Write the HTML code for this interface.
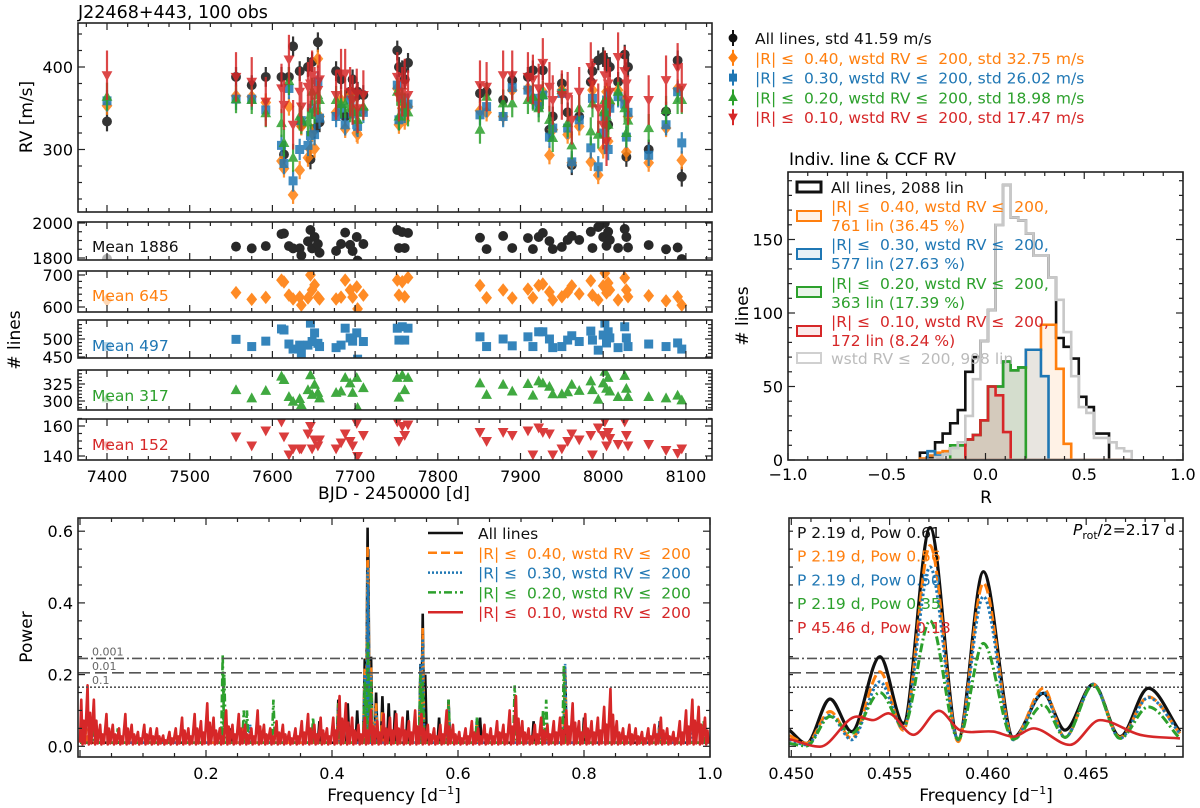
<!DOCTYPE html>
<html><head><meta charset="utf-8">
<style>
html,body{margin:0;padding:0;background:#fff;}
svg{display:block;font-family:"DejaVu Sans","Liberation Sans",sans-serif;}
</style></head>
<body>
<svg id="c" width="1200" height="808" viewBox="0 0 1200 808" xmlns="http://www.w3.org/2000/svg">
<defs>
<clipPath id="cpTop"><rect x="78" y="23" width="634" height="189"/></clipPath>
<clipPath id="cpBL"><rect x="78" y="518" width="632" height="239"/></clipPath>
<clipPath id="cpBR"><rect x="789" y="518" width="394" height="239"/></clipPath>
<clipPath id="cpH"><rect x="788" y="172" width="395" height="288"/></clipPath>
</defs>
<text x="78" y="18" font-size="17.5">J22468+443, 100 obs</text>
<text x="789" y="165" font-size="17">Indiv. line &amp; CCF RV</text>
<text transform="translate(32,117) rotate(-90)" text-anchor="middle" font-size="17">RV [m/s]</text>
<text transform="translate(20,340) rotate(-90)" text-anchor="middle" font-size="17"># lines</text>
<text x="394" y="499" text-anchor="middle" font-size="17">BJD - 2450000 [d]</text>
<text x="986" y="503" text-anchor="middle" font-size="17">R</text>
<text transform="translate(748,316) rotate(-90)" text-anchor="middle" font-size="17"># lines</text>
<text transform="translate(32,637) rotate(-90)" text-anchor="middle" font-size="17">Power</text>
<text x="394" y="801" text-anchor="middle" font-size="17">Frequency [d<tspan dy="-7" font-size="11">−1</tspan><tspan dy="7">]</tspan></text>
<text x="986" y="801" text-anchor="middle" font-size="17">Frequency [d<tspan dy="-7" font-size="11">−1</tspan><tspan dy="7">]</tspan></text>
</svg>
<script>
// ---------- DATA ----------
const epochs=[7400,7556,7575,7592,7611,7614,7620,7625,7633,7635,7643,7646,7648,7651,7655,7657,7677,7683,7688,7694,7697,7702,7703,7710,7751,7753,7757,7760,7764,7851,7859,7879,7890,7909,7915,7922,7927,7935,7939,7950,7957,7962,7971,7985,7987,7994,8000,8002,8004,8006,8008,8018,8026,8028,8030,8055,8076,8090,8095];
const rvAll=[334,388,378,388,388,294,388,425,395,330,400,288,406,325,430,333,395,385,340,370,385,365,370,366,420,400,396,385,405,368,370,360,384,388,396,356,396,324,340,380,345,281,340,382,395,408,412,408,405,330,400,382,415,291,400,300,346,408,267];
const rv40=[353,365,364,357,286,277,352,245,275,328,290,300,320,301,410,340,345,360,325,365,348,320,318,348,374,330,350,335,352,347,345,340,372,374,360,355,370,293,324,372,318,284,328,285,372,269,300,345,370,310,355,372,360,297,340,284,326,374,287];
const rv30=[359,361,361,348,305,283,374,262,300,335,305,317,350,318,382,338,340,350,330,360,343,330,328,345,378,336,362,345,355,342,352,340,375,372,362,352,366,315,326,368,326,285,336,302,362,279,320,340,360,300,350,364,355,315,345,293,330,370,308];
const rv20=[364,361,360,344,332,308,383,290,340,336,333,342,370,348,366,360,360,355,355,350,350,345,336,352,370,340,358,352,345,324,364,356,356,360,364,350,366,336,314,372,332,305,350,322,356,318,345,360,340,330,360,370,350,320,335,326,348,360,360];
const rv10=[390,388,382,358,374,354,409,330,370,352,376,380,390,370,372,385,366,392,392,370,360,368,350,366,388,364,370,380,366,378,376,390,390,388,385,374,405,376,360,366,364,336,370,400,380,350,330,390,310,380,370,412,395,380,360,360,384,399,375];
const nAll=[1795,1865,1855,1868,1937,1940,1868,1855,1855,1815,1895,1960,1855,1920,1880,1830,1840,1880,1945,1875,1840,1920,1785,1880,1960,1857,1948,1857,1943,1916,1851,1926,1857,1914,1851,1920,1943,1897,1851,1863,1903,1926,1903,1950,1857,1977,1920,2000,1870,1950,1903,1857,1966,1920,1860,1874,1850,1860,1794];
const n40=[622,645,624,630,684,678,637,625,631,606,628,700,653,669,631,625,625,631,684,653,631,663,594,637,684,637,679,632,692,667,629,653,628,656,629,667,672,647,622,632,647,666,641,682,637,622,666,706,644,675,653,622,691,653,632,635,619,632,606];
const n30=[479,499,479,494,528,525,486,472,483,461,483,544,493,517,488,479,476,483,530,503,494,517,444,493,530,497,534,497,530,506,479,500,481,506,479,520,520,500,476,479,497,509,493,522,497,469,511,544,489,520,503,476,534,503,479,486,479,489,472];
const n20=[304,316,304,315,336,331,306,299,303,294,316,338,309,324,312,304,312,314,334,326,312,334,290,319,334,305,338,316,334,326,309,324,314,325,308,329,326,321,310,310,313,324,315,329,316,302,326,343,318,334,314,306,337,318,306,306,304,308,301];
const n10=[147,153,147,157,163,153,141,145,145,145,155,160,145,151,147,151,145,149,155,150,147,162,140,154,163,150,160,154,161,156,150,156,154,157,141,159,156,155,141,145,150,155,151,154,141,159,154,163,147,156,152,148,163,154,147,148,144,142,145];
const rvErr=[12,11,13,17,30];
const meanLabels=["Mean 1886","Mean 645","Mean 497","Mean 317","Mean 152"];
const rvLegend=["All lines, std 41.59 m/s","|R| \u2264\u00a0 0.40, wstd RV \u2264\u00a0 200, std 32.75 m/s","|R| \u2264\u00a0 0.30, wstd RV \u2264\u00a0 200, std 26.02 m/s","|R| \u2264\u00a0 0.20, wstd RV \u2264\u00a0 200, std 18.98 m/s","|R| \u2264\u00a0 0.10, wstd RV \u2264\u00a0 200, std 17.47 m/s"];

// histogram
const binStart=-0.332, binWidth=0.0383;
const hAll=[5,2,12,18,25,34,60,70,81,102,160,187,165,163,154,139,139,124,83,77,69,43,36,18,18,0,0,0];
const h40=[1,3,5,6,8,10,14,17,27,50,50,67,61,63,75,75,92,92,62,11,0,0,0,0,0,0,0,0];
const h30=[0,6,3,4,8,10,14,17,27,50,50,67,61,63,75,75,57,0,0,0,0,0,0,0,0,0,0,0];
const h20=[0,0,0,0,10,10,14,17,27,50,50,67,61,63,0,0,0,0,0,0,0,0,0,0,0,0,0,0];
const h10=[0,0,0,0,0,0,14,17,27,50,44,19,0,0,0,0,0,0,0,0,0,0,0,0,0,0,0,0];
const hWstd=[0,0,2,4,8,12,30,55,81,102,160,187,165,163,154,139,139,124,109,87,57,36,32,15,15,12,8,6];
const histLegend=[["All lines, 2088 lin"],["|R| \u2264\u00a0 0.40, wstd RV \u2264\u00a0 200,","761 lin (36.45 %)"],["|R| \u2264\u00a0 0.30, wstd RV \u2264\u00a0 200,","577 lin (27.63 %)"],["|R| \u2264\u00a0 0.20, wstd RV \u2264\u00a0 200,","363 lin (17.39 %)"],["|R| \u2264\u00a0 0.10, wstd RV \u2264\u00a0 200,","172 lin (8.24 %)"],["wstd RV \u2264\u00a0 200, 998 lin"]];

// periodogram (full)
const redBinPow=[0.13,0.17,0.13,0.06,0.09,0.06,0.05,0.09,0.06,0.04,0.06,0.05,0.05,0.03,0.04,0.05,0.08,0.05,0.09,0.07,0.12,0.08,0.05,0.10,0.06,0.09,0.06,0.05,0.10,0.06,0.05,0.07,0.06,0.04,0.05,0.07,0.09,0.06,0.08,0.05,0.08,0.14,0.12,0.08,0.06,0.08,0.10,0.07,0.09,0.08,0.09,0.08,0.07,0.10,0.09,0.06,0.05,0.06,0.10,0.06,0.04,0.05,0.07,0.05,0.06,0.05,0.07,0.06,0.10,0.14,0.07,0.05,0.06,0.08,0.06,0.07,0.08,0.10,0.12,0.07,0.09,0.07,0.08,0.11,0.16,0.07,0.05,0.06,0.05,0.04,0.05,0.06,0.08,0.05,0.04,0.07,0.10,0.13,0.11,0.08];
const blackF=[0.005,0.24,0.38,0.41,0.425,0.44,0.452,0.4565,0.4575,0.462,0.47,0.48,0.49,0.50,0.52,0.5405,0.544,0.548,0.57,0.585,0.635,0.72,0.77,0.80,0.92];
const blackP=[0.06,0.05,0.07,0.13,0.12,0.10,0.245,0.61,0.55,0.25,0.15,0.14,0.12,0.10,0.10,0.23,0.37,0.20,0.08,0.13,0.08,0.07,0.22,0.08,0.07];
const orangeF=[0.01,0.26,0.41,0.452,0.4565,0.4575,0.462,0.47,0.48,0.5405,0.544,0.585,0.63,0.77,0.92];
const orangeP=[0.05,0.06,0.12,0.22,0.56,0.50,0.22,0.12,0.10,0.22,0.33,0.12,0.07,0.22,0.07];
const blueF=[0.02,0.27,0.41,0.452,0.4565,0.4575,0.462,0.47,0.5405,0.544,0.585,0.63,0.77,0.92,0.97];
const blueP=[0.05,0.06,0.11,0.20,0.50,0.45,0.20,0.10,0.23,0.30,0.12,0.08,0.23,0.07,0.06];
const greenF=[0.02,0.06,0.2265,0.229,0.26,0.265,0.307,0.37,0.41,0.452,0.457,0.462,0.5405,0.544,0.585,0.63,0.69,0.735,0.74,0.768,0.80,0.92,0.99];
const greenP=[0.06,0.05,0.255,0.20,0.10,0.10,0.13,0.08,0.12,0.18,0.29,0.18,0.20,0.18,0.13,0.08,0.17,0.10,0.13,0.225,0.06,0.05,0.07];
const faps=[0.245,0.205,0.165];
const fapLabels=["0.001","0.01","0.1"];
const perLegend=["All lines","|R| \u2264\u00a0 0.40, wstd RV \u2264\u00a0 200","|R| \u2264\u00a0 0.30, wstd RV \u2264\u00a0 200","|R| \u2264\u00a0 0.20, wstd RV \u2264\u00a0 200","|R| \u2264\u00a0 0.10, wstd RV \u2264\u00a0 200"];

// periodogram zoom
const zF=[0.4499,0.45078,0.45197,0.45307,0.45451,0.4557,0.45706,0.45849,0.45977,0.46129,0.46282,0.46392,0.46536,0.46672,0.46816,0.46977];
const zBlack=[0.045,0.008,0.132,0.041,0.25,0.064,0.61,0.02,0.487,0.025,0.148,0.045,0.173,0.027,0.162,0.041];
const zOrange=[0.03,0.008,0.097,0.022,0.208,0.045,0.56,0.013,0.455,0.019,0.162,0.025,0.173,0.025,0.138,0.036];
const zBlue=[0.018,0.004,0.087,0.018,0.18,0.05,0.50,0.018,0.418,0.018,0.15,0.025,0.173,0.022,0.136,0.036];
const zGreen=[0.008,0.001,0.083,0.036,0.15,0.055,0.35,0.02,0.287,0.02,0.115,0.025,0.171,0.022,0.11,0.022];
const zRedF=[0.4499,0.45146,0.45333,0.45417,0.45493,0.45621,0.45751,0.45858,0.46028,0.46129,0.46231,0.46417,0.4657,0.46774,0.46977];
const zRed=[0.02,-0.001,0.083,0.073,0.092,0.032,0.099,0.045,0.041,0.027,0.05,0.004,0.073,0.032,0.022];
const zLabels=["P 2.19 d, Pow 0.61","P 2.19 d, Pow 0.56","P 2.19 d, Pow 0.50","P 2.19 d, Pow 0.35","P 45.46 d, Pow 0.18"];

// ---------- RENDER ----------
const NS="http://www.w3.org/2000/svg";
const svg=document.getElementById('c');
const COLS=["#111111","#ff7f0e","#1f77b4","#2ca02c","#d62728"];
function mk(tag,attrs,parent){const e=document.createElementNS(NS,tag);for(const k in attrs)e.setAttribute(k,attrs[k]);(parent||svg).appendChild(e);return e;}
function txt(x,y,s,attrs){const e=mk('text',Object.assign({x:x,y:y},attrs||{}));e.textContent=s;return e;}

const tx=t=>107+(t-7400)*0.827;
const rvy=v=>67+(400-v)*0.825;
const hx=r=>985.5+r*197.5;
const hy=n=>460-n*1.47;
const fx=f=>80+f*630;
const fx2=f=>791.3+(f-0.45)*19660;
const py=p=>746.3-p*358.5;

function frame(x0,y0,x1,y1,name){
  const r=mk('rect',{x:x0,y:y0,width:x1-x0,height:y1-y0,fill:'none',stroke:'#222','stroke-width':1.6});
  
  
}
function xticks(x0,y0,x1,y1,scale,lo,hi,step,minor,labels,fmt,lbly){
  const g=mk('g',{stroke:'#222','stroke-width':1.2});
  
  
  const n=Math.round((hi-lo)/minor);
  for(let i=0;i<=n;i++){const v=lo+i*minor;const X=scale(v);if(X<x0-0.5||X>x1+0.5)continue;
    const maj=Math.abs(v/step-Math.round(v/step))<1e-6;const L=maj?7:4;
    mk('line',{x1:X,y1:y1,x2:X,y2:y1-L},g);mk('line',{x1:X,y1:y0,x2:X,y2:y0+L},g);
    if(maj&&labels){const t=txt(X,lbly,fmt(v),{'text-anchor':'middle','font-size':16});
      
      }}
}
function yticks(x0,y0,x1,y1,scale,lo,hi,step,minor,labels,fmt){
  const g=mk('g',{stroke:'#222','stroke-width':1.2});
  
  
  const n=Math.round((hi-lo)/minor);
  for(let i=0;i<=n;i++){const v=lo+i*minor;const Y=scale(v);if(Y<y0-0.5||Y>y1+0.5)continue;
    const maj=Math.abs(v/step-Math.round(v/step))<1e-6;const L=maj?7:4;
    mk('line',{x1:x0,y1:Y,x2:x0+L,y2:Y},g);mk('line',{x1:x1,y1:Y,x2:x1-L,y2:Y},g);
    if(maj&&labels){const t=txt(x0-5,Y+6,fmt(v),{'text-anchor':'end','font-size':16});
      
      }}
}
function marker(kind,x,y,c,s,parent){
  let e;
  if(kind==0)e=mk('circle',{cx:x,cy:y,r:s*0.55,fill:c},parent);
  else if(kind==1)e=mk('polygon',{points:`${x},${y-s*0.75} ${x+s*0.6},${y} ${x},${y+s*0.75} ${x-s*0.6},${y}`,fill:c},parent);
  else if(kind==2)e=mk('rect',{x:x-s*0.5,y:y-s*0.5,width:s,height:s,fill:c},parent);
  else if(kind==3)e=mk('polygon',{points:`${x},${y-s*0.65} ${x+s*0.6},${y+s*0.45} ${x-s*0.6},${y+s*0.45}`,fill:c},parent);
  else e=mk('polygon',{points:`${x},${y+s*0.65} ${x+s*0.6},${y-s*0.45} ${x-s*0.6},${y-s*0.45}`,fill:c},parent);
  return e;
}

// ---- RV panel ----
const rvSeries=[rvAll,rv40,rv30,rv20,rv10];
const gTop=mk('g',{'clip-path':'url(#cpTop)'});


for(let s=0;s<5;s++){
  const g=mk('g',{opacity:0.85},gTop);
  
  
  for(let i=0;i<epochs.length;i++){
    const X=tx(epochs[i]),Y=rvy(rvSeries[s][i]);
    const eb=mk('line',{x1:X,x2:X,y1:rvy(rvSeries[s][i]+rvErr[s]),y2:rvy(rvSeries[s][i]-rvErr[s]),stroke:COLS[s],'stroke-width':2.2},g);
    
    
    const m=marker(s,X,Y,COLS[s],9,g);
    
    
  }
}
frame(78,23,712,212,'rv-panel-frame');
xticks(78,23,712,212,tx,7350,8150,100,25,false);
yticks(78,23,712,212,rvy,220,460,100,20,true,v=>String(v));

for(let s=0;s<5;s++){
  const Y=38+s*19.8;
  const l=mk('line',{x1:733,x2:733,y1:Y-8,y2:Y+8,stroke:COLS[s],'stroke-width':2});
  
  
  const m=marker(s,733,Y,COLS[s],8);
  
  
  const t=txt(755,Y+6,rvLegend[s],{'font-size':15.5,fill:COLS[s]});
  
  
}

// ---- small n-lines panels ----
const nSeries=[nAll,n40,n30,n20,n10];
const sp=[{y0:222,y1:260,a:2000,ya:223,b:1800,yb:258,lo:1750,hi:2050,st:200,mi:50},
 {y0:271,y1:312,a:700,ya:275,b:600,yb:307,lo:560,hi:740,st:100,mi:20},
 {y0:320,y1:358,a:500,ya:339,b:450,yb:357,lo:430,hi:540,st:50,mi:10},
 {y0:370,y1:410,a:325,ya:384,b:300,yb:401,lo:280,hi:345,st:25,mi:5},
 {y0:419,y1:460,a:160,ya:426,b:140,yb:456,lo:130,hi:170,st:20,mi:5}];
for(let s=0;s<5;s++){
  const P=sp[s];
  const sc=v=>P.yb+(v-P.b)*(P.ya-P.yb)/(P.a-P.b);
  const cid='cpS'+s;
  const cp=mk('clipPath',{id:cid});mk('rect',{x:78,y:P.y0,width:634,height:P.y1-P.y0},cp);
  const g=mk('g',{'clip-path':`url(#${cid})`,opacity:0.9});
  
  
  for(let i=0;i<epochs.length;i++){
    const m=marker(s,tx(epochs[i]),sc(nSeries[s][i]),COLS[s],9,g);
    if(i==0)m.setAttribute('opacity',0.35);
    
    
  }
  const t=txt(92,[252,301,351,401,450][s],meanLabels[s],{'font-size':15.5,fill:COLS[s]});
  
  
  frame(78,P.y0,712,P.y1,'nlines-frame');
  xticks(78,P.y0,712,P.y1,tx,7350,8150,100,25,s==4,v=>String(v),482);
  yticks(78,P.y0,712,P.y1,sc,P.lo,P.hi,P.st,P.mi,true,v=>String(v));
}

// ---- histogram ----
const hSeries=[hAll,h40,h30,h20,h10];
const gH=mk('g',{'clip-path':'url(#cpH)'});


function stepPath(arr){
  let d=`M${hx(binStart)},${hy(0)}`;
  for(let i=0;i<arr.length;i++){const a=hx(binStart+i*binWidth),b=hx(binStart+(i+1)*binWidth);d+=` L${a},${hy(arr[i])} L${b},${hy(arr[i])}`;}
  d+=` L${hx(binStart+arr.length*binWidth)},${hy(0)} Z`;return d;
}
for(let s=0;s<5;s++){
  const p=mk('path',{d:stepPath(hSeries[s]),fill:s==0?'none':COLS[s],'fill-opacity':0.1,stroke:COLS[s],'stroke-width':2.6,'stroke-linejoin':'miter'},gH);
  
  
}
const pw=mk('path',{d:stepPath(hWstd),fill:'none',stroke:'#c8c8c8','stroke-width':2.6},gH);


frame(788,172,1183,460,'histogram-frame');
xticks(788,172,1183,460,hx,-1,1,0.5,0.1,true,v=>(v<0?'\u2212':'')+Math.abs(v).toFixed(1),480);
yticks(788,172,1183,460,hy,0,190,50,10,true,v=>String(v));
const legRows=[[187],[206,225],[244,263],[283,302],[321,340],[358]];
const boxY=[187,216,254,292,331,358];
const hCols=[COLS[0],COLS[1],COLS[2],COLS[3],COLS[4],'#bbbbbb'];
for(let k=0;k<6;k++){
  const b=mk('rect',{x:797,y:boxY[k]-5,width:24,height:10,fill:k==0||k==5?'none':hCols[k],'fill-opacity':0.1,stroke:k==5?'#d0d0d0':hCols[k],'stroke-width':k==0?3:2});
  
  
  for(let j=0;j<histLegend[k].length;j++){
    const t=txt(831,legRows[k][j]+6,histLegend[k][j],{'font-size':15.5,fill:hCols[k]});
    
    
  }
}

// ---- periodogram full ----
const gBL=mk('g',{'clip-path':'url(#cpBL)'});


function spikePath(F,P,hw){
  const idx=F.map((f,i)=>i).sort((a,b)=>F[a]-F[b]);
  let d=`M${fx(0)},${py(0.01)}`;
  idx.forEach(i=>{d+=` L${fx(F[i]-hw)},${py(0.01)} L${fx(F[i])},${py(P[i])} L${fx(F[i]+hw)},${py(0.01)}`;});
  d+=` L${fx(1)},${py(0.01)}`;return d;
}
const specs=[[blackF,blackP,'none'],[orangeF,orangeP,'9,4'],[blueF,blueP,'2,2'],[greenF,greenP,'8,3,2,3']];
for(let s=0;s<4;s++){
  const p=mk('path',{d:spikePath(specs[s][0],specs[s][1],0.0025),fill:'none',stroke:COLS[s],'stroke-width':2.6,'stroke-dasharray':specs[s][2]},gBL);
  
  
}
let rd=`M${fx(0)},${py(0.01)}`;
for(let i=0;i<redBinPow.length;i++){const f=i*0.01;rd+=` L${fx(f+0.002)},${py(redBinPow[i])} L${fx(f+0.004)},${py(0.005)} L${fx(f+0.006)},${py(redBinPow[i]*0.55)} L${fx(f+0.008)},${py(0.008)}`;}
const pr=mk('path',{d:rd,fill:'none',stroke:COLS[4],'stroke-width':2.6,'stroke-linejoin':'round'},gBL);


const fapDash=['10,3,2,3','12,5','2,2'];
for(let k=0;k<3;k++){
  for(const [a,b,nm] of [[78,710,'fap-line'],[789,1183,'fap-line-zoom']]){
    const l=mk('line',{x1:a,x2:b,y1:py(faps[k]),y2:py(faps[k]),stroke:'#555','stroke-width':1.6,'stroke-dasharray':fapDash[k]});
    
    
  }
  const t=txt(92,py(faps[k])-3,fapLabels[k],{'font-size':11,fill:'#666'});
  
  
}
frame(78,518,710,757,'periodogram-frame');
xticks(78,518,710,757,fx,0,1,0.2,0.05,true,v=>v<0.01?'':v.toFixed(1),779);
yticks(78,518,710,757,py,0,0.65,0.2,0.05,true,v=>v.toFixed(1));
const legStyles=['none','9,4','2,2','8,3,2,3','none'];
for(let s=0;s<5;s++){
  const Y=533+s*19.8;
  const l=mk('line',{x1:428,x2:463,y1:Y,y2:Y,stroke:COLS[s],'stroke-width':2.5,'stroke-dasharray':legStyles[s]});
  
  
  const t=txt(478,Y+6,perLegend[s],{'font-size':15.5,fill:COLS[s]});
  
  
}

// ---- periodogram zoom ----
const gBR=mk('g',{'clip-path':'url(#cpBR)'});


function P_ext(pts,i){const a=pts[i-1][1],b=pts[i][1],c=pts[i+1][1];return (b-a)*(b-c)>0;}
function smooth(F,P){
  const pts=F.map((f,i)=>[fx2(f),py(P[i])]);
  let d=`M${pts[0][0]},${pts[0][1]}`;
  for(let i=0;i<pts.length-1;i++){
    const p0=pts[Math.max(0,i-1)],p1=pts[i],p2=pts[i+1],p3=pts[Math.min(pts.length-1,i+2)];
    const dx=(p2[0]-p1[0])/3;
    const s1=(p2[1]-p0[1])/(p2[0]-p0[0]||1),s2=(p3[1]-p1[1])/(p3[0]-p1[0]||1);
    const e1=i>0&&P_ext(pts,i), e2=i+1<pts.length-1&&P_ext(pts,i+1);
    const m1=e1?0:s1, m2=e2?0:s2;
    d+=` C${p1[0]+dx},${p1[1]+m1*dx} ${p2[0]-dx},${p2[1]-m2*dx} ${p2[0]},${p2[1]}`;
  }
  return d;
}
const zs=[[zF,zBlack,'none',3.2],[zF,zOrange,'10,4',3],[zF,zBlue,'2.5,2.5',3],[zF,zGreen,'9,3,2,3',3],[zRedF,zRed,'none',2.6]];
for(let s=0;s<5;s++){
  const p=mk('path',{d:smooth(zs[s][0],zs[s][1]),fill:'none',stroke:COLS[s],'stroke-width':zs[s][3],'stroke-dasharray':zs[s][2]},gBR);
  
  
}
for(let s=0;s<5;s++){
  const t=txt(797,538+s*23.7,zLabels[s],{'font-size':15.5,fill:COLS[s]});
  
  
}
const pt=txt(1175,535,'',{'font-size':15.5,'text-anchor':'end'});
pt.innerHTML='<tspan font-style="italic">P</tspan><tspan font-size="11" dy="4">rot</tspan><tspan dy="-4">/2=2.17 d</tspan>';


frame(789,518,1183,757,'zoom-periodogram-frame');
xticks(789,518,1183,757,fx2,0.449,0.4705,0.005,0.001,true,v=>v.toFixed(3),779);
yticks(789,518,1183,757,py,-0.05,0.65,10,0.05,false);
</script>
</body></html>
